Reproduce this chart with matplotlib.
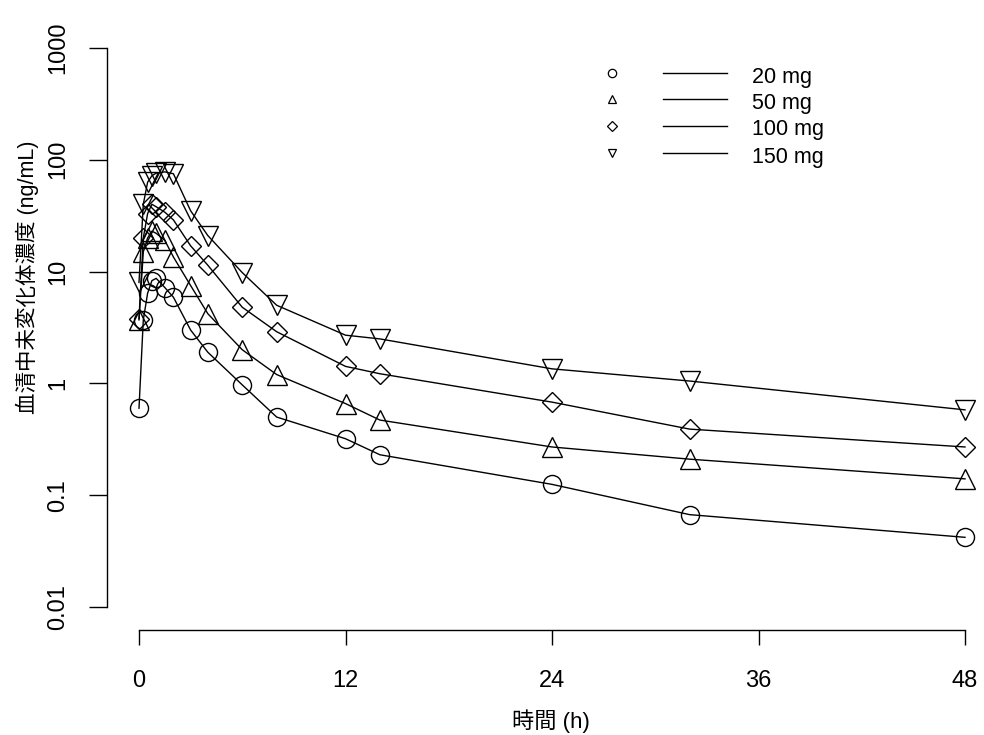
#!/usr/bin/env python3
"""血清中未変化体濃度の推移 (20/50/100/150 mg) — R風の片対数プロット."""
import matplotlib
matplotlib.use("Agg")
import matplotlib.pyplot as plt
from matplotlib.lines import Line2D

plt.rcParams["font.family"] = ["Liberation Sans", "Noto Sans CJK JP"]

# 採血時間 (h)
times = [0, 0.25, 0.5, 0.75, 1, 1.5, 2, 3, 4, 6, 8, 12, 14, 24, 32, 48]

# 各用量の平均濃度 (ng/mL)
conc_20 = [0.6, 3.7, 6.4, 8.3, 8.7, 7.2, 5.9, 3.0, 1.9, 0.97, 0.50, 0.32, 0.23, 0.125, 0.067, 0.042]
conc_50 = [3.7, 15, 20, 23, 22, 19, 13.5, 7.5, 4.2, 2.0, 1.2, 0.66, 0.47, 0.27, 0.21, 0.14]
conc_100 = [3.8, 20, 33, 40, 38, 34, 29, 17, 11.4, 4.8, 2.9, 1.42, 1.22, 0.68, 0.39, 0.27]
conc_150 = [8.0, 40, 63, 72, 76, 78, 75, 35, 21, 9.8, 5.0, 2.7, 2.5, 1.35, 1.05, 0.58]

doses = ["20 mg", "50 mg", "100 mg", "150 mg"]
series = [conc_20, conc_50, conc_100, conc_150]
markers = ["o", "^", "D", "v"]
msizes = [13, 14, 10, 14]

W, H = 984, 735
fig = plt.figure(figsize=(W / 100, H / 100), dpi=100)

# 軸の位置 (ピクセル) : x 107-975, y 40-630
ax = fig.add_axes([107 / W, (H - 630) / H, 868 / W, 590 / H])

for y, m, ms in zip(series, markers, msizes):
    ax.plot(times, y, color="black", lw=1.0, marker=m, ms=ms,
            mfc="none", mec="black", mew=1.0)

ax.set_yscale("log")
xpp = 48 / 826
ax.set_xlim(0 - 32 * xpp, 48 + 10 * xpp)
ax.set_ylim(10 ** (-2 - 23 / 111.8), 10 ** (3 + 8 / 111.8))

for s in ["top", "right"]:
    ax.spines[s].set_visible(False)
ax.spines["left"].set_bounds(0.01, 1000)
ax.spines["bottom"].set_bounds(0, 48)
ax.spines["left"].set_linewidth(1.0)
ax.spines["bottom"].set_linewidth(1.0)

ax.set_xticks([0, 12, 24, 36, 48])
ax.set_xticklabels(["0", "12", "24", "36", "48"])
yt = [0.01, 0.1, 1, 10, 100, 1000]
ax.set_yticks(yt)
ax.set_yticklabels(["0.01", "0.1", "1", "10", "100", "1000"], rotation=90, va="center")
ax.minorticks_off()
ax.tick_params(axis="x", length=11, width=1, labelsize=17, pad=18)
ax.tick_params(axis="y", length=13, width=1, labelsize=17, pad=14)

fig.text(27 / W, 1 - 277 / H, "血清中未変化体濃度 (ng/mL)", rotation=90,
         ha="center", va="center", fontsize=15.5)
fig.text(551 / W, 1 - 721 / H, "時間 (h)", ha="center", va="center", fontsize=16)

# 凡例 (手描き)
rows = [73, 99, 126, 153]
for r, m, lab in zip(rows, markers, doses):
    fy = 1 - r / H
    fig.add_artist(Line2D([612 / W], [fy], marker=m, ms=6 if m != "D" else 5,
                          mfc="none", mec="black", mew=0.9, ls="none",
                          transform=fig.transFigure))
    fig.add_artist(Line2D([663 / W, 727 / W], [fy, fy], color="black", lw=1.0,
                          transform=fig.transFigure))
    fig.text(752 / W, 1 - (r + 4) / H, lab, ha="left", va="center", fontsize=15.5)

fig.savefig("out.png", dpi=100)
